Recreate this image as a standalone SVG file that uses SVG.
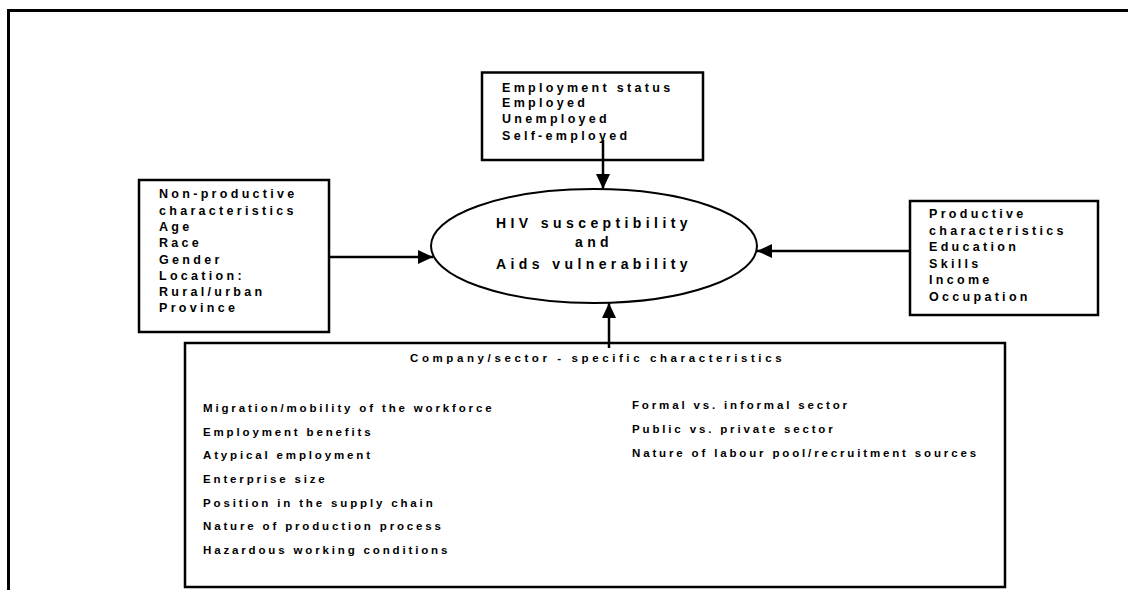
<svg xmlns="http://www.w3.org/2000/svg" width="1128" height="590" viewBox="0 0 1128 590">
<style>
.box{fill:#fff;stroke:#000;stroke-width:2.5}
.frame{fill:none;stroke:#000;stroke-width:3}
.conn{fill:none;stroke:#000;stroke-width:2.5}
.bt{font-family:"Liberation Sans",Arial,sans-serif;font-weight:bold;font-size:12.5px;letter-spacing:3.3px;fill:#000}
.et{font-family:"Liberation Sans",Arial,sans-serif;font-weight:bold;font-size:14px;letter-spacing:4.4px;fill:#000;text-anchor:middle}
.ct{font-family:"Liberation Sans",Arial,sans-serif;font-weight:bold;font-size:11.5px;letter-spacing:2.85px;fill:#000}
.title{font-family:"Liberation Sans",Arial,sans-serif;font-weight:bold;font-size:11.5px;letter-spacing:3.6px;fill:#000}
</style>
<defs>
<marker id="ah" markerUnits="userSpaceOnUse" markerWidth="16" markerHeight="16" refX="15" refY="7" orient="auto">
<path d="M0,0 L15,7 L0,14 z" fill="#000"/>
</marker>
</defs>
<rect width="1128" height="590" fill="#fff"/>
<g id="frame">
<path class="frame" d="M8.5,590 L8.5,10.5 L1128,10.5"/>
</g>
<g id="employment-status">
<rect class="box" x="482" y="72.5" width="221" height="87.5"/>
<text class="bt" x="502" y="92">Employment status</text>
<text class="bt" x="502" y="107">Employed</text>
<text class="bt" x="502" y="123">Unemployed</text>
<text class="bt" x="502" y="140">Self-employed</text>
</g>
<g id="non-productive">
<rect class="box" x="139" y="180" width="190" height="152"/>
<text class="bt" x="159" y="198">Non-productive</text>
<text class="bt" x="159" y="214.5">characteristics</text>
<text class="bt" x="159" y="231">Age</text>
<text class="bt" x="159" y="247">Race</text>
<text class="bt" x="159" y="263.5">Gender</text>
<text class="bt" x="159" y="280">Location:</text>
<text class="bt" x="159" y="296">Rural/urban</text>
<text class="bt" x="159" y="312">Province</text>
</g>
<g id="productive">
<rect class="box" x="910" y="201" width="188" height="114"/>
<text class="bt" x="929" y="218">Productive</text>
<text class="bt" x="929" y="234.5">characteristics</text>
<text class="bt" x="929" y="251">Education</text>
<text class="bt" x="929" y="267.5">Skills</text>
<text class="bt" x="929" y="284">Income</text>
<text class="bt" x="929" y="300.5">Occupation</text>
</g>
<g id="hiv">
<ellipse cx="594" cy="246" rx="163" ry="57" fill="#fff" stroke="#000" stroke-width="2"/>
<text class="et" x="594" y="228">HIV susceptibility</text>
<text class="et" x="594" y="247">and</text>
<text class="et" x="594" y="269">Aids vulnerability</text>
</g>
<g id="company-sector">
<rect class="box" x="185" y="343" width="820" height="244"/>
<text class="title" x="410" y="362">Company/sector - specific characteristics</text>
<text class="ct" x="203" y="412">Migration/mobility of the workforce</text>
<text class="ct" x="203" y="435.5">Employment benefits</text>
<text class="ct" x="203" y="459">Atypical employment</text>
<text class="ct" x="203" y="483">Enterprise size</text>
<text class="ct" x="203" y="506.5">Position in the supply chain</text>
<text class="ct" x="203" y="530">Nature of production process</text>
<text class="ct" x="203" y="554">Hazardous working conditions</text>
<text class="ct" x="632" y="409">Formal vs. informal sector</text>
<text class="ct" x="632" y="433">Public vs. private sector</text>
<text class="ct" x="632" y="457">Nature of labour pool/recruitment sources</text>
</g>
<g id="connectors">
<path class="conn" d="M603,140 L603,189" marker-end="url(#ah)"/>
<path class="conn" d="M329,257 L433,257" marker-end="url(#ah)"/>
<path class="conn" d="M910,251 L757,251" marker-end="url(#ah)"/>
<path class="conn" d="M609,348 L609,303" marker-end="url(#ah)"/>
</g>
</svg>
